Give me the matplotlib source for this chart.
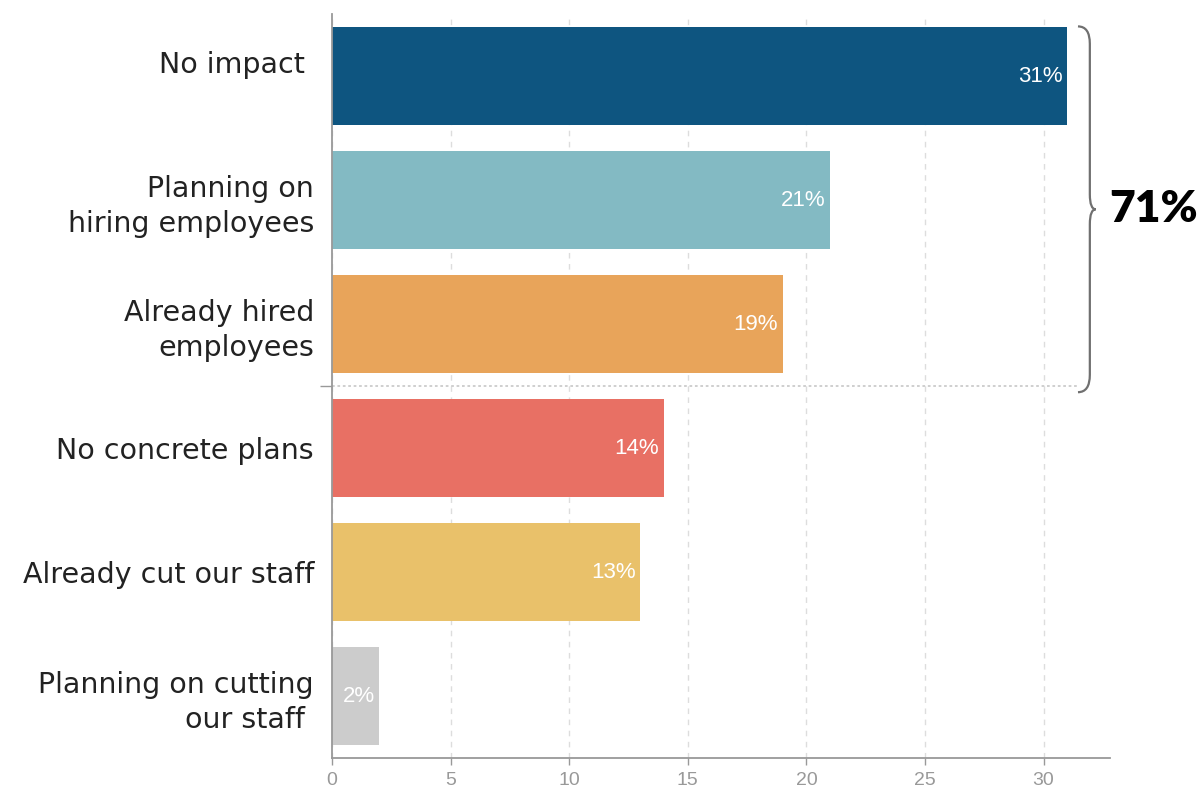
import matplotlib.pyplot as plt
from matplotlib.path import Path
from matplotlib.patches import PathPatch

# Survey answers, top to bottom
categories = [
    "No impact \n ",
    "Planning on\nhiring employees",
    "Already hired\nemployees",
    "No concrete plans",
    "Already cut our staff",
    "Planning on cutting\nour staff ",
]
values = [31, 21, 19, 14, 13, 2]
colors = ["#0E5580", "#83BAC3", "#E8A45A", "#E87064", "#E9C16A", "#CCCCCC"]
group_total = "71%"
x_ticks = [0, 5, 10, 15, 20, 25, 30]

fig = plt.figure(figsize=(12.03, 7.91), dpi=100)
ax = fig.add_axes([332 / 1203, 1 - 758 / 791, (1110 - 332) / 1203, (758 - 14) / 791])

y = list(range(len(categories)))
ax.barh(y, values, height=0.79, color=colors, zorder=2)

# value labels inside bar ends
for yi, v in zip(y, values):
    ax.text(v - 0.2, yi, f"{v}%", ha="right", va="center", color="white",
            fontsize=16, family="Liberation Sans", zorder=3)

ax.set_xlim(0, 32.8)
ax.set_ylim(5.5, -0.5)

ax.set_yticks(y)
ax.set_yticklabels(categories, fontsize=20.5, color="#222222", linespacing=1.3,
                   family="DejaVu Sans")
ax.tick_params(axis="y", which="major", length=0, pad=13)
ax.set_yticks([2.5], minor=True)
ax.tick_params(axis="y", which="minor", length=9, color="#999999", width=1)

ax.set_xticks(x_ticks)
ax.set_xticklabels([str(t) for t in x_ticks], fontsize=14, color="#999999",
                   family=["Liberation Sans Narrow", "Liberation Sans"])
ax.tick_params(axis="x", length=5, color="#999999", width=1, pad=5)

for s in ["top", "right"]:
    ax.spines[s].set_visible(False)
for s in ["left", "bottom"]:
    ax.spines[s].set_color("#999999")
    ax.spines[s].set_linewidth(1.3)

ax.grid(axis="x", color="#DDDDDD", linestyle=(0, (4, 4)), linewidth=1, zorder=0)
ax.set_axisbelow(True)

# split between growth answers and the rest
ax.plot([0, 31.45], [2.5, 2.5], color="#CCCCCC", linestyle=(0, (1.5, 1.5)),
        linewidth=1.3, clip_on=False, zorder=1)

# curly brace grouping the first three bars
x0, x1, xt = 31.45, 31.95, 32.2
yt, yb = -0.4, 2.55
ym = (yt + yb) / 2
verts = [
    (x0, yt), (x1, yt), (x1, yt + 0.14),
    (x1, ym - 0.12),
    (x1, ym), (xt, ym), (x1, ym), (x1, ym + 0.12),
    (x1, yb - 0.14),
    (x1, yb), (x0, yb),
]
codes = [
    Path.MOVETO, Path.CURVE3, Path.CURVE3,
    Path.LINETO,
    Path.CURVE3, Path.CURVE3, Path.CURVE3, Path.CURVE3,
    Path.LINETO,
    Path.CURVE3, Path.CURVE3,
]
brace = PathPatch(Path(verts, codes), facecolor="none", edgecolor="#707070",
                  linewidth=1.6, clip_on=False)
ax.add_patch(brace)
ax.text(32.75, ym, group_total, ha="left", va="center", fontsize=32,
        fontweight="heavy", color="black", family="Lato")

fig.savefig("out.png", dpi=100)
